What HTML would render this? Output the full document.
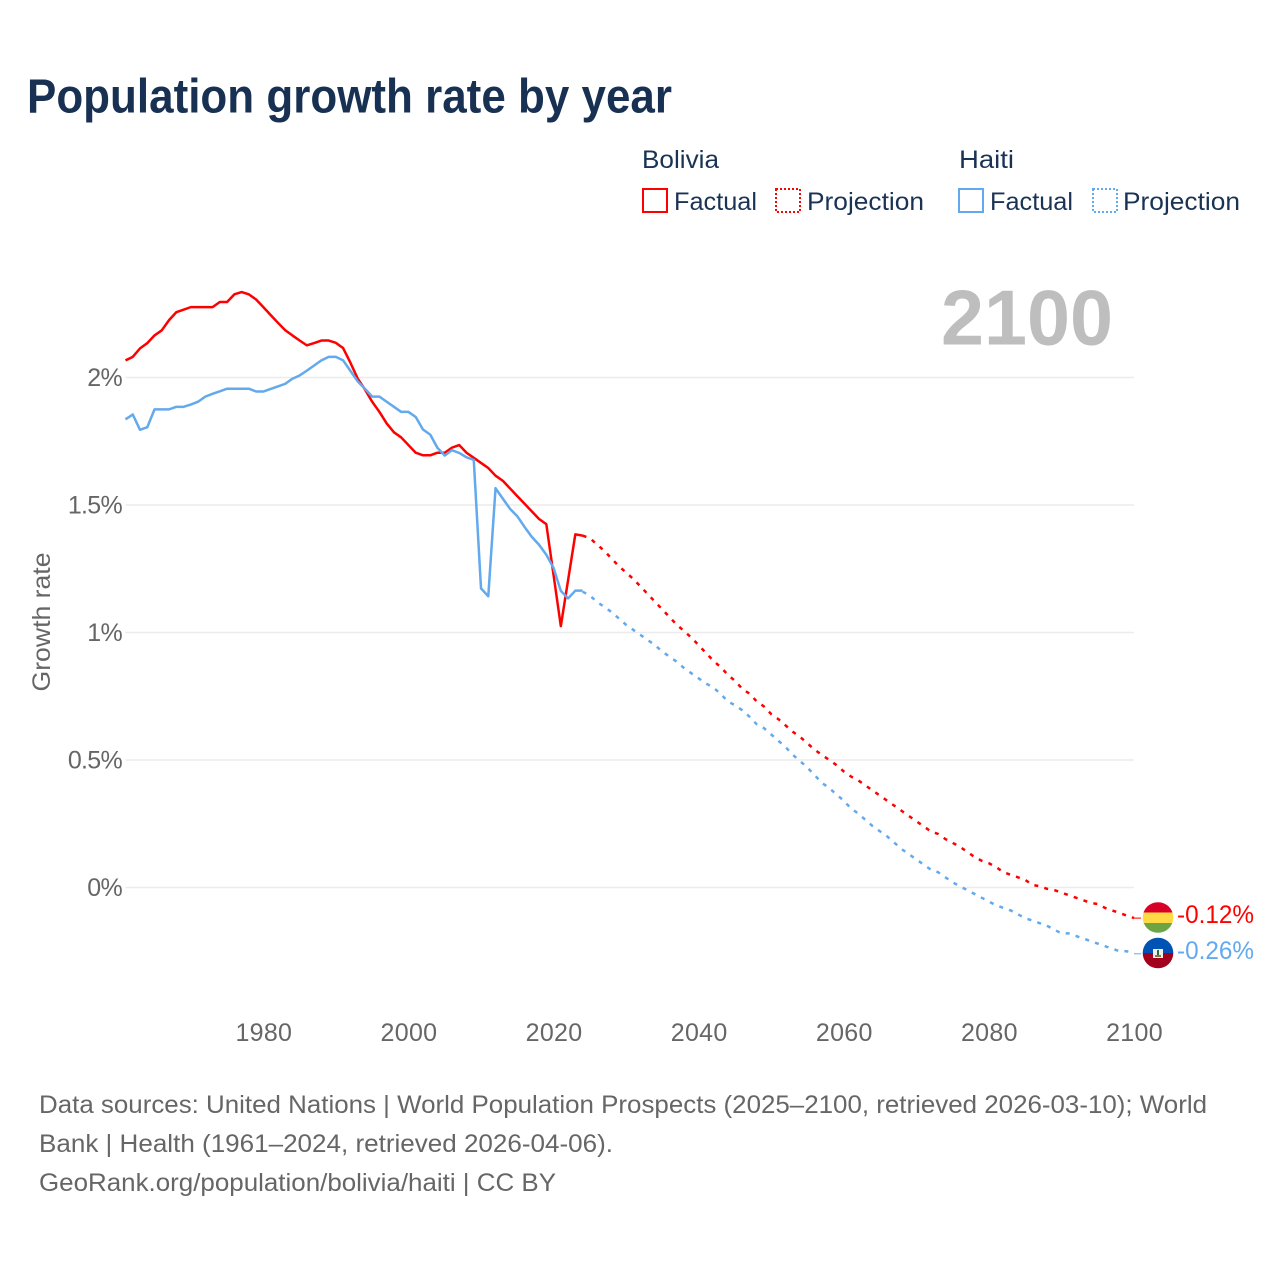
<!DOCTYPE html>
<html lang="en">
<head>
<meta charset="utf-8">
<title>Population growth rate by year</title>
<style>
  html, body { margin: 0; padding: 0; background: #fff; }
  body { width: 1280px; height: 1280px; overflow: hidden; }
  svg { display: block; font-family: "Liberation Sans", sans-serif; }
</style>
</head>
<body>
<svg id="chart" width="1280" height="1280" viewBox="0 0 1280 1280" xmlns="http://www.w3.org/2000/svg">
  <rect x="0" y="0" width="1280" height="1280" fill="#ffffff"/>
  <text x="27" y="112.5" font-size="48" font-weight="700" fill="#183153" textLength="645" lengthAdjust="spacingAndGlyphs">Population growth rate by year</text>

  <g font-size="25" fill="#1a3355">
    <text x="642" y="168" textLength="77" lengthAdjust="spacingAndGlyphs">Bolivia</text>
    <text x="959" y="168" textLength="55" lengthAdjust="spacingAndGlyphs">Haiti</text>
    <rect x="643" y="189" width="24" height="23" fill="none" stroke="#ff0000" stroke-width="2"/>
    <text x="674" y="210" textLength="83" lengthAdjust="spacingAndGlyphs">Factual</text>
    <rect x="776" y="189" width="24" height="23" fill="none" stroke="#ff0000" stroke-width="2" stroke-dasharray="2,2"/>
    <text x="807" y="210" textLength="117" lengthAdjust="spacingAndGlyphs">Projection</text>
    <rect x="959" y="189" width="24" height="23" fill="none" stroke="#63a9ee" stroke-width="2"/>
    <text x="990" y="210" textLength="83" lengthAdjust="spacingAndGlyphs">Factual</text>
    <rect x="1093" y="189" width="24" height="23" fill="none" stroke="#63a9ee" stroke-width="2" stroke-dasharray="2,2"/>
    <text x="1123" y="210" textLength="117" lengthAdjust="spacingAndGlyphs">Projection</text>
  </g>

  <g id="grid"></g>

  <text x="941" y="344.5" font-size="78" font-weight="700" fill="#bebebe" textLength="172" lengthAdjust="spacingAndGlyphs">2100</text>

  <g id="y-ticks" font-size="25" fill="#666666" text-anchor="end" letter-spacing="-0.7"></g>
  <g id="x-ticks" font-size="25" fill="#666666" text-anchor="middle" letter-spacing="0.3"></g>
  <text transform="translate(50,622) rotate(-90)" font-size="25" fill="#666666" text-anchor="middle" textLength="139" lengthAdjust="spacingAndGlyphs">Growth rate</text>

  <g id="series"></g>

  <g>
    <clipPath id="clip-bolivia"><circle cx="1158" cy="917.5" r="15.3"/></clipPath>
    <g clip-path="url(#clip-bolivia)">
      <rect x="1142" y="902" width="32" height="10.5" fill="#d80027"/>
      <rect x="1142" y="912.5" width="32" height="10.5" fill="#ffda44"/>
      <rect x="1142" y="923" width="32" height="11" fill="#6da544"/>
    </g>
    <text x="1177" y="923" font-size="25" fill="#ff0000" textLength="77" lengthAdjust="spacingAndGlyphs">-0.12%</text>
  </g>
  <g>
    <clipPath id="clip-haiti"><circle cx="1158" cy="953" r="15.3"/></clipPath>
    <g clip-path="url(#clip-haiti)">
      <rect x="1142" y="937" width="32" height="16" fill="#0052b4"/>
      <rect x="1142" y="953" width="32" height="17" fill="#a2001d"/>
      <rect x="1153" y="949" width="10" height="9" fill="#f0f0f0"/>
      <rect x="1157" y="950" width="2" height="5" fill="#2e6b3a"/>
      <rect x="1155" y="955" width="6" height="2" fill="#8a7a3a"/>
    </g>
    <text x="1177" y="959" font-size="25" fill="#63a9ee" textLength="77" lengthAdjust="spacingAndGlyphs">-0.26%</text>
  </g>

  <g font-size="25" fill="#666666">
    <text x="39" y="1113" textLength="1168" lengthAdjust="spacingAndGlyphs">Data sources: United Nations | World Population Prospects (2025–2100, retrieved 2026-03-10); World</text>
    <text x="39" y="1152" textLength="574" lengthAdjust="spacingAndGlyphs">Bank | Health (1961–2024, retrieved 2026-04-06).</text>
    <text x="39" y="1191" textLength="517" lengthAdjust="spacingAndGlyphs">GeoRank.org/population/bolivia/haiti | CC BY</text>
  </g>
</svg>
<script>
const factualStartYear = 1961;
const projectionStartYear = 2024;
const boliviaFactual = [2.067,2.081,2.114,2.135,2.165,2.185,2.225,2.256,2.266,2.276,2.276,2.276,2.276,2.296,2.296,2.326,2.335,2.326,2.306,2.276,2.245,2.215,2.186,2.165,2.145,2.126,2.135,2.145,2.145,2.136,2.115,2.058,1.996,1.953,1.905,1.865,1.82,1.785,1.765,1.735,1.705,1.695,1.695,1.705,1.705,1.725,1.735,1.705,1.685,1.665,1.645,1.615,1.595,1.565,1.535,1.505,1.475,1.445,1.425,1.225,1.025,1.205,1.385,1.38];
const haitiFactual = [1.836,1.855,1.795,1.805,1.875,1.875,1.875,1.885,1.885,1.894,1.905,1.925,1.936,1.946,1.956,1.956,1.956,1.956,1.945,1.945,1.955,1.965,1.975,1.995,2.008,2.027,2.047,2.067,2.081,2.081,2.067,2.026,1.985,1.956,1.925,1.925,1.905,1.885,1.865,1.865,1.845,1.796,1.776,1.724,1.694,1.715,1.704,1.687,1.677,1.173,1.142,1.566,1.525,1.485,1.456,1.414,1.375,1.344,1.305,1.253,1.163,1.134,1.164,1.164];
const boliviaProjection = [1.38,1.37,1.345,1.32,1.29,1.26,1.235,1.21,1.18,1.15,1.12,1.09,1.06,1.03,1.005,0.98,0.95,0.92,0.89,0.865,0.835,0.81,0.78,0.76,0.73,0.71,0.68,0.66,0.635,0.61,0.59,0.565,0.54,0.52,0.5,0.48,0.455,0.435,0.42,0.4,0.38,0.36,0.34,0.32,0.3,0.28,0.26,0.24,0.22,0.21,0.19,0.175,0.16,0.14,0.12,0.105,0.095,0.08,0.06,0.05,0.04,0.03,0.01,0.005,-0.005,-0.01,-0.02,-0.03,-0.04,-0.05,-0.06,-0.065,-0.08,-0.09,-0.1,-0.11,-0.12];
const haitiProjection = [1.16,1.145,1.12,1.1,1.08,1.055,1.03,1.01,0.99,0.97,0.95,0.925,0.905,0.885,0.86,0.84,0.82,0.8,0.785,0.76,0.73,0.715,0.695,0.67,0.64,0.625,0.6,0.575,0.55,0.52,0.495,0.47,0.44,0.41,0.39,0.365,0.34,0.31,0.29,0.265,0.24,0.22,0.2,0.175,0.15,0.13,0.11,0.09,0.07,0.06,0.04,0.02,0.005,-0.01,-0.025,-0.04,-0.055,-0.07,-0.08,-0.09,-0.105,-0.12,-0.13,-0.14,-0.15,-0.165,-0.18,-0.18,-0.19,-0.2,-0.21,-0.22,-0.23,-0.24,-0.25,-0.25,-0.26];
const yTickValues = [0, 0.5, 1, 1.5, 2];
const yTickLabels = ["0%", "0.5%", "1%", "1.5%", "2%"];
const xTickValues = [1980, 2000, 2020, 2040, 2060, 2080, 2100];
const xTickLabels = ["1980", "2000", "2020", "2040", "2060", "2080", "2100"];

const SVG_NS = "http://www.w3.org/2000/svg";
const xDomain = [1961, 2100];
const xRange = [125.5, 1134];
const yZero = 887.5;
const yPerUnit = 255;

function xScale(year) {
  return xRange[0] + (year - xDomain[0]) * (xRange[1] - xRange[0]) / (xDomain[1] - xDomain[0]);
}
function yScale(value) {
  return yZero - value * yPerUnit;
}
function linePath(values, startYear) {
  return values.map(function (v, i) {
    return (i ? "L" : "M") + xScale(startYear + i).toFixed(2) + " " + yScale(v).toFixed(2);
  }).join(" ");
}

const gridGroup = document.getElementById("grid");
const yTickGroup = document.getElementById("y-ticks");
yTickValues.forEach(function (v, i) {
  const line = document.createElementNS(SVG_NS, "line");
  
  
  line.setAttribute("x1", xRange[0]);
  line.setAttribute("x2", xRange[1]);
  line.setAttribute("y1", yScale(v));
  line.setAttribute("y2", yScale(v));
  line.setAttribute("stroke", "#ececec");
  line.setAttribute("stroke-width", "1.5");
  gridGroup.appendChild(line);

  const label = document.createElementNS(SVG_NS, "text");
  
  
  label.setAttribute("x", 122);
  label.setAttribute("y", yScale(v) + 8.5);
  label.textContent = yTickLabels[i];
  yTickGroup.appendChild(label);
});

const xTickGroup = document.getElementById("x-ticks");
xTickValues.forEach(function (v, i) {
  const label = document.createElementNS(SVG_NS, "text");
  
  
  label.setAttribute("x", xScale(v) + 0.5);
  label.setAttribute("y", 1041);
  label.textContent = xTickLabels[i];
  xTickGroup.appendChild(label);
});

const seriesGroup = document.getElementById("series");

const boliviaProjectionLine = document.createElementNS(SVG_NS, "path");


boliviaProjectionLine.setAttribute("d", linePath(boliviaProjection, projectionStartYear));
boliviaProjectionLine.setAttribute("fill", "none");
boliviaProjectionLine.setAttribute("stroke", "#ff0000");
boliviaProjectionLine.setAttribute("stroke-width", "2.5");
boliviaProjectionLine.setAttribute("stroke-dasharray", "4,6.3");
seriesGroup.appendChild(boliviaProjectionLine);

const haitiProjectionLine = document.createElementNS(SVG_NS, "path");


haitiProjectionLine.setAttribute("d", linePath(haitiProjection, projectionStartYear));
haitiProjectionLine.setAttribute("fill", "none");
haitiProjectionLine.setAttribute("stroke", "#63a9ee");
haitiProjectionLine.setAttribute("stroke-width", "2.5");
haitiProjectionLine.setAttribute("stroke-dasharray", "4,6.3");
seriesGroup.appendChild(haitiProjectionLine);

const boliviaFactualLine = document.createElementNS(SVG_NS, "path");


boliviaFactualLine.setAttribute("d", linePath(boliviaFactual, factualStartYear));
boliviaFactualLine.setAttribute("fill", "none");
boliviaFactualLine.setAttribute("stroke", "#ff0000");
boliviaFactualLine.setAttribute("stroke-width", "2.5");
boliviaFactualLine.setAttribute("stroke-linejoin", "round");
seriesGroup.appendChild(boliviaFactualLine);

const haitiFactualLine = document.createElementNS(SVG_NS, "path");


haitiFactualLine.setAttribute("d", linePath(haitiFactual, factualStartYear));
haitiFactualLine.setAttribute("fill", "none");
haitiFactualLine.setAttribute("stroke", "#63a9ee");
haitiFactualLine.setAttribute("stroke-width", "2.5");
haitiFactualLine.setAttribute("stroke-linejoin", "round");
seriesGroup.appendChild(haitiFactualLine);

const boliviaConnector = document.createElementNS(SVG_NS, "line");


boliviaConnector.setAttribute("x1", xScale(2100));
boliviaConnector.setAttribute("x2", xScale(2100) + 7);
boliviaConnector.setAttribute("y1", yScale(boliviaProjection[boliviaProjection.length - 1]));
boliviaConnector.setAttribute("y2", yScale(boliviaProjection[boliviaProjection.length - 1]));
boliviaConnector.setAttribute("stroke", "#ff0000");
boliviaConnector.setAttribute("stroke-width", "1");
seriesGroup.appendChild(boliviaConnector);

const haitiConnector = document.createElementNS(SVG_NS, "line");


haitiConnector.setAttribute("x1", xScale(2100));
haitiConnector.setAttribute("x2", xScale(2100) + 7);
haitiConnector.setAttribute("y1", yScale(haitiProjection[haitiProjection.length - 1]));
haitiConnector.setAttribute("y2", yScale(haitiProjection[haitiProjection.length - 1]));
haitiConnector.setAttribute("stroke", "#63a9ee");
haitiConnector.setAttribute("stroke-width", "1");
seriesGroup.appendChild(haitiConnector);
</script>
</body>
</html>
